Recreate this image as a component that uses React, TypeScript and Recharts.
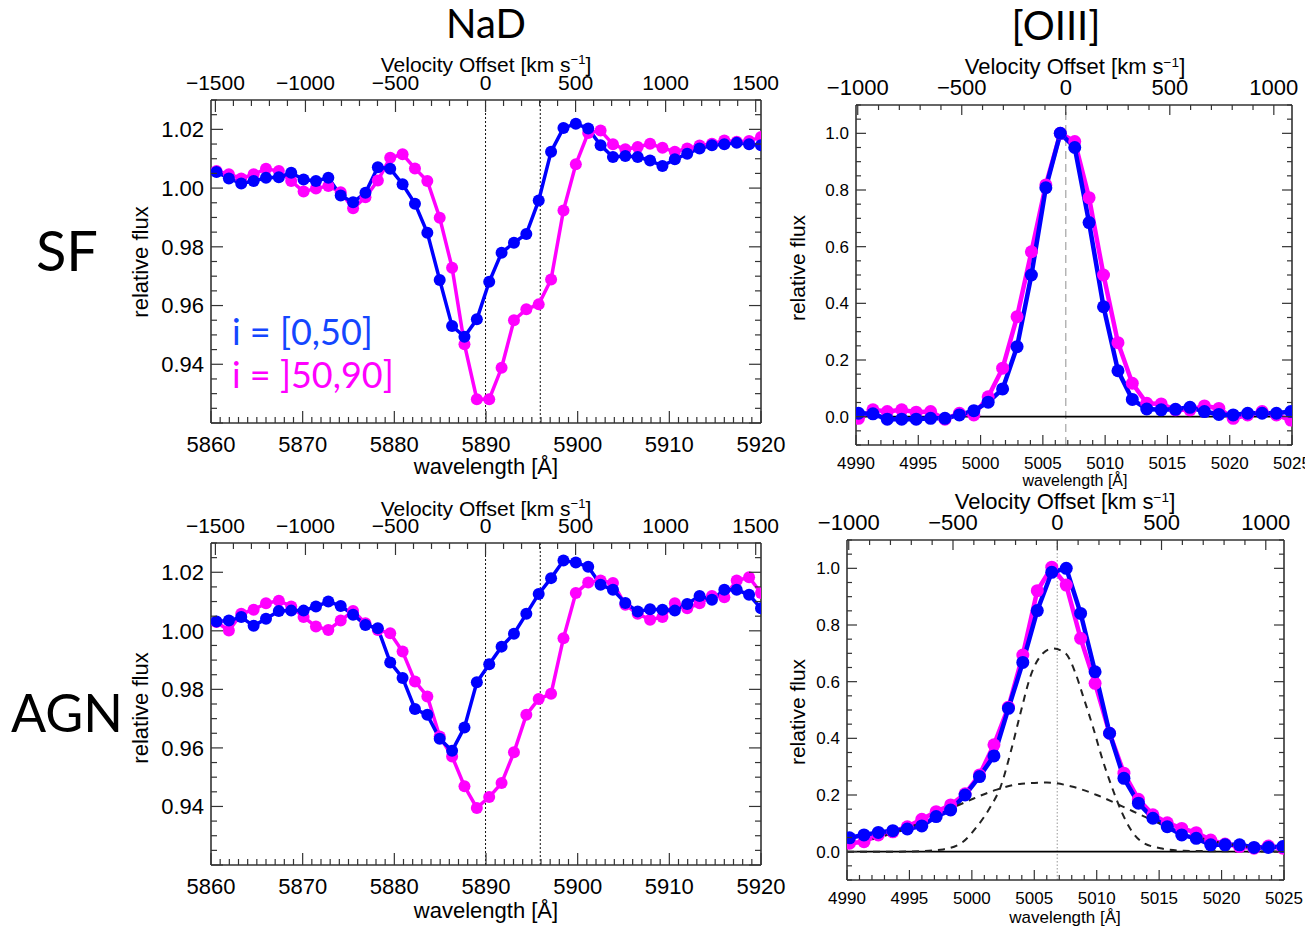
import React from "react";
import { LineChart, Line, XAxis, YAxis, ReferenceLine } from "recharts";

const BLUE = "#0000ff";
const MAGENTA = "#ff00ff";
const LEGEND_BLUE = "#1446ff";
const AXIS = "#333";
const FONT = "'Liberation Sans', Arial, sans-serif";
const TITLE_FONT = "Lato, 'Open Sans', sans-serif";
const C_KMS = 299792.458;

// NaD rest wavelengths (D2, D1) and [OIII] 5007
const NAD_REST = 5889.95;
const NAD_D1 = 5895.92;
const OIII_REST = 5006.84;

// ---- NaD spectra ----
const NAD_WAVE = [
  5860.6, 5861.95, 5863.3, 5864.65, 5866.0, 5867.4, 5868.75, 5870.1, 5871.45, 5872.8,
  5874.15, 5875.5, 5876.85, 5878.2, 5879.55, 5880.9, 5882.25, 5883.6, 5884.95, 5886.3,
  5887.65, 5889.0, 5890.35, 5891.7, 5893.05, 5894.4, 5895.75, 5897.1, 5898.45, 5899.8,
  5901.15, 5902.5, 5903.85, 5905.2, 5906.55, 5907.9, 5909.25, 5910.6, 5911.95, 5913.3,
  5914.65, 5916.0, 5917.35, 5918.7, 5920.0,
];
// i = [0,50]
const SF_NAD_LOW = [
  1.0055, 1.0033, 1.0016, 1.0024, 1.0035, 1.0037, 1.0052, 1.0029, 1.0024, 1.0035,
  0.9975, 0.9952, 0.9984, 1.0071, 1.0066, 1.0013, 0.9947, 0.9848, 0.9687, 0.953,
  0.9494, 0.9553, 0.9681, 0.978, 0.9814, 0.9844, 0.9958, 1.0124, 1.0205, 1.0219,
  1.0203, 1.0146, 1.0106, 1.0109, 1.0106, 1.0094, 1.0075, 1.0098, 1.0117, 1.0135,
  1.0146, 1.0149, 1.0154, 1.0149, 1.0146,
];
// i = ]50,90]
const SF_NAD_HIGH = [
  1.0058, 1.0047, 1.0033, 1.0047, 1.0066, 1.0058, 1.0024, 0.9988, 0.9999, 1.0007,
  0.9986, 0.9931, 0.9969, 1.0026, 1.0103, 1.0115, 1.0067, 1.0024, 0.9899, 0.9729,
  0.9468, 0.9281, 0.9281, 0.9388, 0.955, 0.9587, 0.9604, 0.9689, 0.9924, 1.0081,
  1.0188, 1.0196, 1.0149, 1.0132, 1.014, 1.0151, 1.0137, 1.0124, 1.0135, 1.0145,
  1.0151, 1.0162, 1.0158, 1.016, 1.0174,
];
const AGN_NAD_LOW = [
  1.0032, 1.0035, 1.0047, 1.0017, 1.0041, 1.0068, 1.0069, 1.0069, 1.0083, 1.01,
  1.0085, 1.0055, 1.002, 1.0009, 0.9892, 0.9839, 0.9733, 0.9713, 0.9631, 0.959,
  0.967, 0.9824, 0.9886, 0.9946, 0.999, 1.0058, 1.0126, 1.018, 1.024, 1.0233,
  1.0219, 1.0157, 1.014, 1.0095, 1.0066, 1.0074, 1.0072, 1.0069, 1.0092, 1.0119,
  1.0106, 1.014, 1.014, 1.0123, 1.0077,
];
const AGN_NAD_HIGH = [
  1.003, 1.0001, 1.0058, 1.0072, 1.0094, 1.0103, 1.0083, 1.0047, 1.0015, 1.0003,
  1.0035, 1.0068, 1.0026, 1.0003, 0.9992, 0.9929, 0.9827, 0.9776, 0.9639, 0.9571,
  0.9469, 0.9395, 0.9432, 0.948, 0.9585, 0.9713, 0.9767, 0.9785, 0.9975, 1.0129,
  1.0165, 1.0172, 1.0163, 1.0089, 1.0058, 1.0038, 1.0047, 1.0094, 1.0077, 1.0094,
  1.0119, 1.0115, 1.0172, 1.0183, 1.0129,
];

// ---- [OIII] spectra ----
const OIII_WAVE = [
  4990.2, 4991.36, 4992.51, 4993.67, 4994.83, 4995.99, 4997.14, 4998.3, 4999.46, 5000.61,
  5001.77, 5002.93, 5004.08, 5005.24, 5006.4, 5007.56, 5008.71, 5009.87, 5011.03, 5012.18,
  5013.34, 5014.5, 5015.65, 5016.81, 5017.97, 5019.13, 5020.28, 5021.44, 5022.6, 5023.75,
  5024.91,
];
const SF_OIII_LOW = [
  0.012, 0.01, -0.009, -0.009, -0.009, -0.006, -0.006, 0.006, 0.021, 0.051,
  0.098, 0.247, 0.5, 0.808, 1.0, 0.95, 0.685, 0.388, 0.162, 0.061,
  0.027, 0.024, 0.026, 0.033, 0.018, 0.008, 0.006, 0.012, 0.012, 0.012,
  0.018,
];
const SF_OIII_HIGH = [
  -0.006, 0.024, 0.018, 0.024, 0.016, 0.018, -0.009, 0.012, 0.006, 0.07,
  0.171, 0.353, 0.582, 0.818, 1.0, 0.971, 0.773, 0.5, 0.261, 0.118,
  0.047, 0.045, 0.024, 0.024, 0.038, 0.029, -0.006, 0.006, 0.018, 0.006,
  -0.012,
];
const AGN_OIII_LOW = [
  0.049, 0.059, 0.068, 0.074, 0.08, 0.091, 0.124, 0.147, 0.2, 0.265,
  0.338, 0.506, 0.668, 0.851, 0.986, 1.0, 0.841, 0.635, 0.418, 0.259,
  0.171, 0.118, 0.088, 0.059, 0.047, 0.024, 0.024, 0.024, 0.015, 0.015,
  0.018,
];
const AGN_OIII_HIGH = [
  0.03, 0.035, 0.059, 0.07, 0.088, 0.114, 0.141, 0.165, 0.204, 0.271,
  0.377, 0.51, 0.694, 0.921, 1.004, 0.941, 0.753, 0.594, 0.418, 0.277,
  0.185, 0.13, 0.102, 0.082, 0.067, 0.041, 0.027, 0.018, 0.012, 0.02,
  0.012,
];

// AGN [OIII] fit components (dashed)
const NARROW_WAVE = [
  4990, 4994, 4996, 4997.7, 4999.3, 5000.4, 5001.5, 5002.3, 5003.1, 5003.9,
  5004.7, 5005.7, 5006.5, 5007.5, 5008.3, 5008.9, 5009.7, 5010.5, 5011.2, 5012.0,
  5012.7, 5013.6, 5015.1, 5017, 5025,
];
const NARROW_FLUX = [
  0, 0, 0.002, 0.008, 0.035, 0.088, 0.159, 0.229, 0.35, 0.49,
  0.62, 0.7, 0.717, 0.7, 0.63, 0.55, 0.44, 0.32, 0.23, 0.14,
  0.08, 0.035, 0.012, 0.003, 0,
];
const BROAD_WAVE = [
  4990, 4992, 4994, 4996, 4998, 5000, 5002, 5004, 5006, 5008,
  5010, 5012, 5014, 5016, 5018, 5020, 5022, 5024, 5025,
];
const BROAD_FLUX = [
  0.025, 0.043, 0.07, 0.104, 0.145, 0.185, 0.219, 0.24, 0.244, 0.23,
  0.2, 0.161, 0.12, 0.083, 0.053, 0.031, 0.017, 0.009, 0.006,
];

const NAD_VEL = [-1500, 1500];
const OIII_VEL = [-1000, 1000];

function range(start: number, stop: number, step: number): number[] {
  const out: number[] = [];
  const n = Math.round((stop - start) / step);
  for (let i = 0; i <= n; i++) out.push(+(start + i * step).toFixed(6));
  return out;
}

function isMultiple(v: number, step: number) {
  const q = v / step;
  return Math.abs(q - Math.round(q)) < 1e-6;
}

function rows(wave: number[], flux: number[]) {
  return wave.map((w, i) => ({ w, f: flux[i] }));
}

interface Box { left: number; top: number; width: number; height: number }

interface PanelProps {
  box: Box;
  xDomain: [number, number];
  xMajor: number;
  yDomain: [number, number];
  yMinor: number;
  yMajor: number;
  yDigits: number;
  yLabelMin: number;
  rest: number;
  vel: number[];
  tickFont: number;
  topFont: number;
  bottomOffset: number;
  majorLen: number;
  minorLen: number;
  lineWidth: number;
  dotR: number;
  low: number[];
  high: number[];
  wave: number[];
  refX: number[];
  refStroke: string;
  refDash: string;
  refWidth: number;
  zeroLine?: boolean;
  models?: { wave: number[]; flux: number[] }[];
}

const LW = 80;
const RW = 40;
const TH = 40;
const BH = 50;

function Panel(p: PanelProps) {
  const xTicks = range(p.xDomain[0], p.xDomain[1], 1);
  const yTicks = range(
    Math.ceil(p.yDomain[0] / p.yMinor - 1e-6) * p.yMinor,
    Math.floor(p.yDomain[1] / p.yMinor + 1e-6) * p.yMinor,
    p.yMinor
  );
  const velTicks = range(p.vel[0], p.vel[1], 100).map((v) => p.rest * (1 + v / C_KMS));

  const bottomTick = (t: any) => {
    const v = t.payload.value as number;
    const major = isMultiple(v, p.xMajor);
    return (
      <g>
        <line x1={t.x} x2={t.x} y1={t.y} y2={t.y - (major ? p.majorLen : p.minorLen)} stroke={AXIS} strokeWidth={1.2} />
        {major && (
          <text x={t.x} y={t.y + p.bottomOffset} textAnchor="middle" fontSize={p.tickFont} fontFamily={FONT} fill="#000">
            {v}
          </text>
        )}
      </g>
    );
  };

  const topTick = (t: any) => {
    const lam = t.payload.value as number;
    const vel = Math.round((lam / p.rest - 1) * C_KMS);
    const major = vel % 500 === 0;
    return (
      <g>
        <line x1={t.x} x2={t.x} y1={t.y} y2={t.y + (major ? p.majorLen : p.minorLen)} stroke={AXIS} strokeWidth={1.2} />
        {major && (
          <text x={t.x} y={t.y - 10} textAnchor="middle" fontSize={p.topFont} fontFamily={FONT} fill="#000">
            {vel < 0 ? `\u2212${-vel}` : vel}
          </text>
        )}
      </g>
    );
  };

  const leftTick = (t: any) => {
    const v = t.payload.value as number;
    const major = isMultiple(v, p.yMajor);
    return (
      <g>
        <line x1={t.x} x2={t.x + (major ? p.majorLen : p.minorLen)} y1={t.y} y2={t.y} stroke={AXIS} strokeWidth={1.2} />
        {major && v >= p.yLabelMin - 1e-9 && (
          <text x={t.x - 7} y={t.y} dy="0.36em" textAnchor="end" fontSize={p.tickFont} fontFamily={FONT} fill="#000">
            {v.toFixed(p.yDigits)}
          </text>
        )}
      </g>
    );
  };

  const rightTick = (t: any) => {
    const v = t.payload.value as number;
    const major = isMultiple(v, p.yMajor);
    return (
      <line x1={t.x - (major ? p.majorLen : p.minorLen)} x2={t.x} y1={t.y} y2={t.y} stroke={AXIS} strokeWidth={1.2} />
    );
  };

  const axisLine = { stroke: AXIS, strokeWidth: 1.6 };

  return (
    <div style={{ position: "absolute", left: p.box.left - LW, top: p.box.top - TH }}>
      <LineChart
        width={p.box.width + LW + RW}
        height={p.box.height + TH + BH}
        margin={{ top: 0, right: 0, bottom: 0, left: 0 }}
      >
        <XAxis
          xAxisId="b"
          dataKey="w"
          type="number"
          domain={p.xDomain}
          allowDataOverflow
          ticks={xTicks}
          interval={0}
          height={BH}
          tickSize={0}
          tickMargin={0}
          tickLine={false}
          axisLine={axisLine}
          tick={bottomTick}
        />
        <XAxis
          xAxisId="t"
          dataKey="w"
          orientation="top"
          type="number"
          domain={p.xDomain}
          allowDataOverflow
          ticks={velTicks}
          interval={0}
          height={TH}
          tickSize={0}
          tickMargin={0}
          tickLine={false}
          axisLine={axisLine}
          tick={topTick}
        />
        <YAxis
          yAxisId="l"
          type="number"
          domain={p.yDomain}
          allowDataOverflow
          ticks={yTicks}
          interval={0}
          width={LW}
          tickSize={0}
          tickMargin={0}
          tickLine={false}
          axisLine={axisLine}
          tick={leftTick}
        />
        <YAxis
          yAxisId="r"
          orientation="right"
          type="number"
          domain={p.yDomain}
          allowDataOverflow
          ticks={yTicks}
          interval={0}
          width={RW}
          tickSize={0}
          tickMargin={0}
          tickLine={false}
          axisLine={axisLine}
          tick={rightTick}
        />

        {p.refX.map((x) => (
          <ReferenceLine
            key={x}
            x={x}
            xAxisId="b"
            yAxisId="l"
            stroke={p.refStroke}
            strokeDasharray={p.refDash}
            strokeWidth={p.refWidth}
          />
        ))}
        {p.zeroLine && (
          <ReferenceLine y={0} xAxisId="b" yAxisId="l" stroke="#000" strokeWidth={1.6} />
        )}

        {/* invisible carriers so the velocity (top) and right axes get drawn */}
        <Line
          data={rows(p.wave, p.low)}
          xAxisId="t"
          yAxisId="r"
          dataKey="f"
          stroke="none"
          dot={false}
          activeDot={false}
          isAnimationActive={false}
        />

        <Line
          data={rows(p.wave, p.high)}
          xAxisId="b"
          yAxisId="l"
          dataKey="f"
          type="linear"
          stroke={MAGENTA}
          strokeWidth={p.lineWidth}
          dot={{ r: p.dotR, fill: MAGENTA, stroke: MAGENTA, strokeWidth: 0 }}
          activeDot={false}
          isAnimationActive={false}
        />
        <Line
          data={rows(p.wave, p.low)}
          xAxisId="b"
          yAxisId="l"
          dataKey="f"
          type="linear"
          stroke={BLUE}
          strokeWidth={p.lineWidth}
          dot={{ r: p.dotR, fill: BLUE, stroke: BLUE, strokeWidth: 0 }}
          activeDot={false}
          isAnimationActive={false}
        />
        {(p.models ?? []).map((m, i) => (
          <Line
            key={i}
            data={rows(m.wave, m.flux)}
            xAxisId="b"
            yAxisId="l"
            dataKey="f"
            type="monotone"
            stroke="#222"
            strokeWidth={2}
            strokeDasharray="7 6"
            dot={false}
            activeDot={false}
            isAnimationActive={false}
          />
        ))}
      </LineChart>
    </div>
  );
}

function Txt({
  x, y, size, children, color = "#000", rotate = 0, family = FONT,
}: {
  x: number; y: number; size: number; children: React.ReactNode;
  color?: string; rotate?: number; family?: string;
}) {
  return (
    <div
      style={{
        position: "absolute",
        left: x,
        top: y,
        transform: `translate(-50%, -50%) rotate(${rotate}deg)`,
        fontSize: size,
        fontFamily: family,
        color,
        whiteSpace: "nowrap",
        lineHeight: 1,
      }}
    >
      {children}
    </div>
  );
}

function VelTitle() {
  return (
    <>
      Velocity Offset [km s
      <sup style={{ fontSize: "0.62em", verticalAlign: "0.55em", lineHeight: 0 }}>{"\u22121"}</sup>]
    </>
  );
}

const NAD_COMMON = {
  xDomain: [5860, 5920] as [number, number],
  xMajor: 10,
  yDomain: [0.92, 1.03] as [number, number],
  yMinor: 0.005,
  yMajor: 0.02,
  yDigits: 2,
  yLabelMin: 0.94,
  rest: NAD_REST,
  vel: NAD_VEL,
  tickFont: 22,
  topFont: 21,
  bottomOffset: 29,
  majorLen: 12,
  minorLen: 6,
  lineWidth: 3.5,
  dotR: 6,
  wave: NAD_WAVE,
  refX: [NAD_REST, NAD_D1],
  refStroke: "#111",
  refDash: "2 2",
  refWidth: 1,
};

const OIII_COMMON = {
  xDomain: [4990, 5025] as [number, number],
  xMajor: 5,
  yDomain: [-0.1, 1.1] as [number, number],
  yMinor: 0.05,
  yMajor: 0.2,
  yDigits: 1,
  yLabelMin: 0,
  rest: OIII_REST,
  vel: OIII_VEL,
  tickFont: 17,
  topFont: 22,
  bottomOffset: 24,
  majorLen: 10,
  minorLen: 5,
  lineWidth: 4.5,
  dotR: 6.5,
  wave: OIII_WAVE,
  refX: [OIII_REST],
  zeroLine: true,
};

export default function App() {
  return (
    <div
      style={{
        position: "absolute",
        left: 0,
        top: 0,
        width: 1305,
        height: 927,
        background: "#fff",
        overflow: "hidden",
      }}
    >
      <Panel
        {...NAD_COMMON}
        box={{ left: 211, top: 100, width: 550, height: 323 }}
        low={SF_NAD_LOW}
        high={SF_NAD_HIGH}
      />
      <Panel
        {...NAD_COMMON}
        box={{ left: 211, top: 543, width: 550, height: 322 }}
        low={AGN_NAD_LOW}
        high={AGN_NAD_HIGH}
      />
      <Panel
        {...OIII_COMMON}
        box={{ left: 856, top: 105, width: 436, height: 340 }}
        low={SF_OIII_LOW}
        high={SF_OIII_HIGH}
        refStroke="#aaa"
        refDash="8 5"
        refWidth={1.3}
      />
      <Panel
        {...OIII_COMMON}
        box={{ left: 847, top: 540, width: 437, height: 340 }}
        low={AGN_OIII_LOW}
        high={AGN_OIII_HIGH}
        refStroke="#aaa"
        refDash="1.5 2"
        refWidth={1.2}
        models={[
          { wave: NARROW_WAVE, flux: NARROW_FLUX },
          { wave: BROAD_WAVE, flux: BROAD_FLUX },
        ]}
      />

      {/* column / row titles */}
      <Txt x={486} y={23} size={40} family={TITLE_FONT}>NaD</Txt>
      <Txt x={1056} y={25} size={40} family={TITLE_FONT}>[OIII]</Txt>
      <Txt x={67} y={250} size={56} family={TITLE_FONT}>SF</Txt>
      <Txt x={67} y={712} size={52} family={TITLE_FONT}>AGN</Txt>

      {/* NaD SF axis titles */}
      <Txt x={486} y={64} size={21}><VelTitle /></Txt>
      <Txt x={486} y={467} size={22}>wavelength [Å]</Txt>
      <Txt x={141} y={262} size={22} rotate={-90}>relative flux</Txt>

      {/* NaD AGN axis titles */}
      <Txt x={486} y={508} size={21}><VelTitle /></Txt>
      <Txt x={486} y={911} size={22}>wavelength [Å]</Txt>
      <Txt x={141} y={708} size={22} rotate={-90}>relative flux</Txt>

      {/* OIII SF axis titles */}
      <Txt x={1075} y={67} size={22}><VelTitle /></Txt>
      <Txt x={1075} y={481} size={16}>wavelength [Å]</Txt>
      <Txt x={797} y={268} size={21} rotate={-90}>relative flux</Txt>

      {/* OIII AGN axis titles */}
      <Txt x={1065} y={502} size={22}><VelTitle /></Txt>
      <Txt x={1065} y={917} size={17}>wavelength [Å]</Txt>
      <Txt x={797} y={712} size={21} rotate={-90}>relative flux</Txt>

      {/* legend */}
      <div style={{ position: "absolute", left: 232, top: 310, fontFamily: TITLE_FONT, fontSize: 36, lineHeight: "43px" }}>
        <div style={{ color: LEGEND_BLUE }}>i = [0,50]</div>
        <div style={{ color: MAGENTA }}>i = ]50,90]</div>
      </div>
    </div>
  );
}
